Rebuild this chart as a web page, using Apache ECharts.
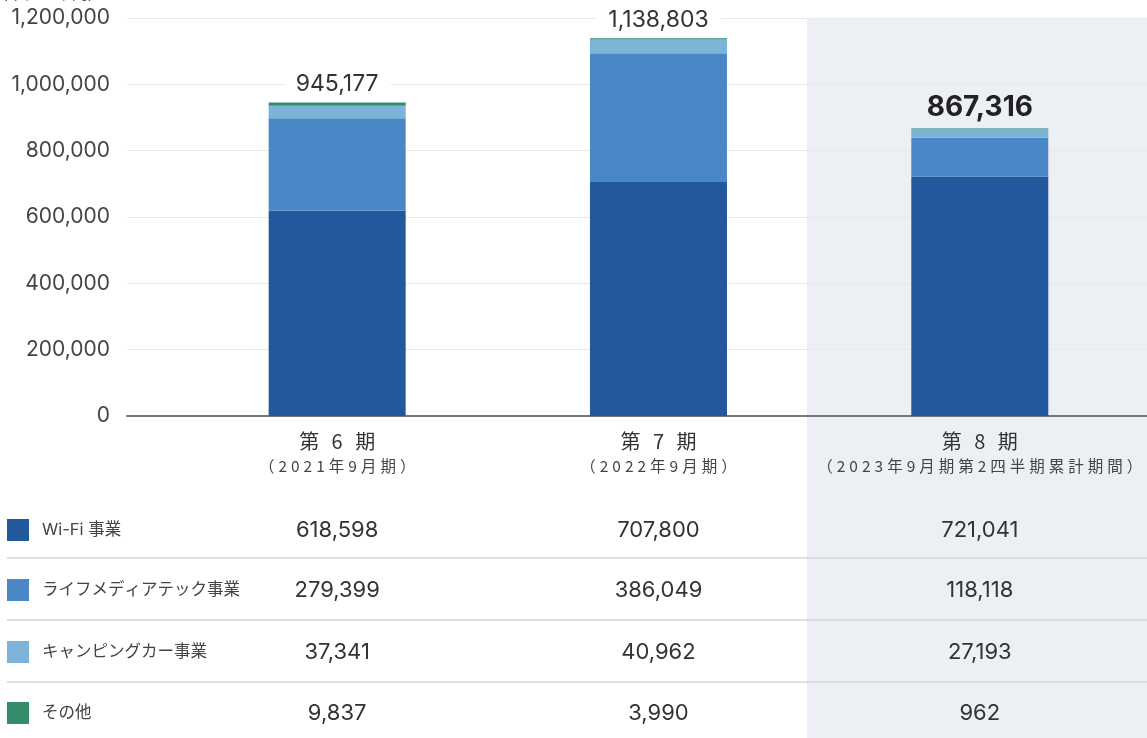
<!DOCTYPE html>
<html>
<head>
<meta charset="utf-8">
<script src="https://cdn.jsdelivr.net/npm/echarts@6/dist/echarts.min.js"></script>
<style>
  html, body { margin: 0; padding: 0; background: #fff; }
  #chart { width: 1147px; height: 738px; }
</style>
</head>
<body>
<div id="chart"></div>
<script>
// 区分・期
const categories = ['第 6 期', '第 7 期', '第 8 期'];
const periods = ['（2021年9月期）', '（2022年9月期）', '（2023年9月期第2四半期累計期間）'];
const seriesNames = ['Wi-Fi 事業', 'ライフメディアテック事業', 'キャンピングカー事業', 'その他'];
const colors = ['#23589d', '#4a87c7', '#7cb4d8', '#338d6b'];

// 売上高（単位：千円）
const wifi = [618598, 707800, 721041];
const life = [279399, 386049, 118118];
const camping = [37341, 40962, 27193];
const other = [9837, 3990, 962];
const totals = [945177, 1138803, 867316];

const yMin = 0;
const yMax = 1200000;
const yInterval = 200000;

const font = 'Inter, "Noto Sans CJK JP", sans-serif';
const cjk = '"Noto Sans CJK JP", sans-serif';
const grayBg = '#eceff4';
const fmt = (v) => v.toLocaleString('en-US');
// 字間を空けるため1文字ずつrichに分ける
const spaced = (s, key) => Array.from(s).map((ch) => '{' + key + '|' + ch + '}').join('');

const chart = echarts.init(document.getElementById('chart'));

const values = [wifi, life, camping, other];
const series = values.map((arr, i) => {
  const s = {
    name: seriesNames[i],
    type: 'bar',
    stack: 'total',
    barWidth: 137,
    xAxisIndex: 0,
    yAxisIndex: 0,
    itemStyle: { color: colors[i] },
    data: arr.slice(),
  };
  if (i === values.length - 1) {
    // 合計ラベル
    s.label = {
      show: true,
      position: 'top',
      distance: 7,
      fontFamily: font,
      fontSize: 23,
      color: '#333',
      backgroundColor: '#fff',
      padding: [0, 12],
      formatter: (p) => fmt(totals[p.dataIndex]),
    };
    s.data = arr.map((v, k) =>
      k === 2
        ? {
            value: v,
            label: { fontSize: 28, fontWeight: 'bold', color: '#222', backgroundColor: grayBg },
          }
        : v
    );
  }
  return s;
});

chart.setOption({
  animation: false,
  textStyle: { fontFamily: font },
  grid: [
    { left: 176.5, right: 4.5, top: 18, bottom: 322 },
    { left: 127, right: 0, top: 18, bottom: 322 },
  ],
  xAxis: [
    {
      type: 'category',
      gridIndex: 0,
      data: categories,
      axisLine: { show: false },
      axisTick: { show: false },
      axisLabel: {
        interval: 0,
        hideOverlap: false,
        margin: 12,
        formatter: (v, i) => spaced(v, 'a') + '\n' + spaced(periods[i], 'b'),
        rich: {
          a: { fontSize: 20, lineHeight: 26, color: '#333', fontFamily: cjk, padding: [0, 2] },
          b: { fontSize: 15.5, lineHeight: 24, color: '#444', fontFamily: cjk, padding: [0, 2] },
        },
      },
    },
    {
      type: 'value',
      gridIndex: 1,
      min: 0,
      max: 1,
      axisLabel: { show: false },
      axisTick: { show: false },
      splitLine: { show: false },
      axisLine: { show: true, lineStyle: { color: '#777', width: 2 } },
    },
  ],
  yAxis: [
    {
      type: 'value',
      gridIndex: 0,
      min: yMin,
      max: yMax,
      interval: yInterval,
      show: false,
    },
    {
      type: 'value',
      gridIndex: 1,
      min: yMin,
      max: yMax,
      interval: yInterval,
      axisLine: { show: false },
      axisTick: { show: false },
      axisLabel: {
        margin: 17,
        fontSize: 21,
        color: '#444',
        fontFamily: font,
        formatter: (v) => fmt(v),
      },
      splitLine: { lineStyle: { color: '#e8e8e8', width: 1 } },
    },
  ],
  series: series,
});

// 下の表（凡例＋数値）
const rowY = [530, 590, 652, 713];
const sepY = [558, 620, 682];
const graphic = [
  {
    type: 'rect',
    z: -10,
    silent: true,
    shape: { x: 807, y: 18, width: 340, height: 720 },
    style: { fill: grayBg },
  },
  {
    type: 'text',
    x: 2,
    y: 2,
    style: { text: '(単位：千円)', fontSize: 16, fill: '#555', fontFamily: font, verticalAlign: 'bottom' },
  },
];
sepY.forEach((y) => {
  graphic.push({
    type: 'line',
    silent: true,
    shape: { x1: 7, y1: y, x2: 1147, y2: y },
    style: { stroke: '#d4d4d4', lineWidth: 1.5 },
  });
});
seriesNames.forEach((name, r) => {
  graphic.push({
    type: 'rect',
    shape: { x: 7, y: rowY[r] - 11, width: 22, height: 22 },
    style: { fill: colors[r] },
  });
  graphic.push({
    type: 'text',
    x: 42,
    y: rowY[r],
    style: { text: name, fontSize: 16.5, fill: '#444', fontFamily: font, verticalAlign: 'middle' },
  });
  values[r].forEach((v, c) => {
    const x = chart.convertToPixel({ xAxisIndex: 0 }, c);
    graphic.push({
      type: 'text',
      x: x,
      y: rowY[r],
      style: {
        text: fmt(v),
        fontSize: 22,
        fill: '#333',
        fontFamily: font,
        align: 'center',
        verticalAlign: 'middle',
      },
    });
  });
});
chart.setOption({ graphic: graphic });

window.onresize = chart.resize;
</script>
</body>
</html>
